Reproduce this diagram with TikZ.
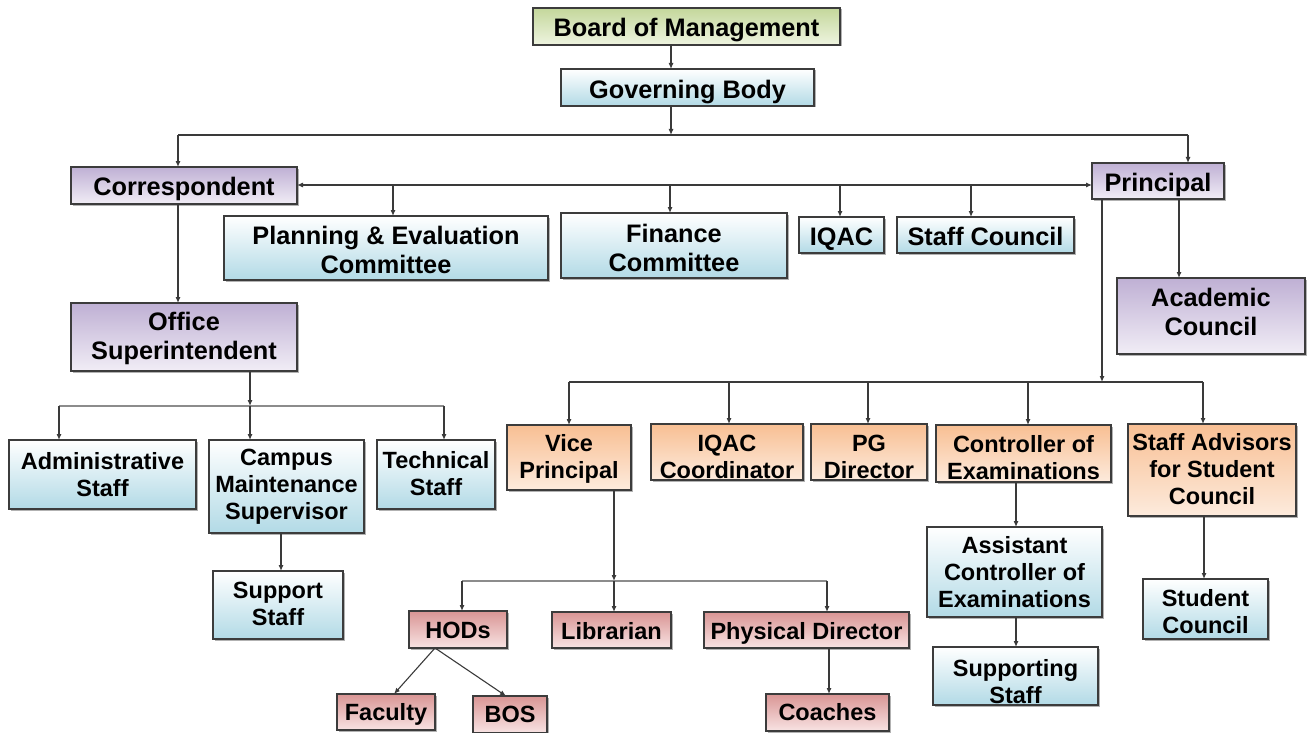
\documentclass[tikz,border=0pt]{standalone}
\usepackage{fontspec}
\setmainfont{Liberation Sans}
\usetikzlibrary{shadows,arrows.meta}
\definecolor{boxline}{HTML}{3C3C3C}
\definecolor{linecol}{HTML}{3A3A3A}
\definecolor{linelight}{HTML}{8C8C8C}
\definecolor{greentop}{HTML}{C4D79B}
\definecolor{greenbot}{HTML}{EEF4E0}
\definecolor{bluetop}{HTML}{FFFFFF}
\definecolor{bluebot}{HTML}{B2DAE6}
\definecolor{purptop}{HTML}{BFB0D4}
\definecolor{purpbot}{HTML}{F1EDF6}
\definecolor{orgtop}{HTML}{F8BF93}
\definecolor{orgbot}{HTML}{FDEBDD}
\definecolor{redtop}{HTML}{D99594}
\definecolor{redbot}{HTML}{F8E3E3}
\tikzset{
  box/.style={draw=boxline, line width=1.2pt, inner sep=0pt, outer sep=0pt, align=center,
    font=\bfseries\fontsize{23.5}{27}\selectfont,
    drop shadow={shadow xshift=1.5pt, shadow yshift=-1.5pt, opacity=0.3, fill=black}},
  tpos/.style 2 args={execute at begin node={\rule{0pt}{#1pt}}, execute at end node={\rule[-#2pt]{0pt}{0pt}}},
  bigtext/.style={font=\bfseries\fontsize{25.3}{29}\selectfont},
  fgreen/.style={top color=greentop, bottom color=greenbot},
  fblue/.style={top color=bluetop, bottom color=bluebot},
  fpurp/.style={top color=purptop, bottom color=purpbot},
  forg/.style={top color=orgtop, bottom color=orgbot},
  fred/.style={top color=redtop, bottom color=redbot},
  conn/.style={draw=linecol, line width=1.1pt},
  connlight/.style={draw=linelight, line width=1.1pt},
  arr/.style={conn, -{Latex[length=6pt,width=5pt]}},
  biarr/.style={conn, {Latex[length=6pt,width=5pt]}-{Latex[length=6pt,width=5pt]}},
}
\begin{document}
\begin{tikzpicture}[x=1pt,y=-1pt]
\useasboundingbox (0,0) rectangle (1309,733);
% top tier
\node[box,bigtext,fgreen,tpos={25.8}{5.4},minimum width=307,minimum height=37] (board) at (686.5,26.5) {Board of Management};
\node[box,bigtext,fblue,tpos={27}{5.4},minimum width=253,minimum height=37] (gov) at (687.5,87.5) {Governing Body};
\node[box,bigtext,fpurp,tpos={24.4}{5.4},minimum width=226,minimum height=37] (corr) at (184,185.5) {Correspondent};
\node[box,bigtext,fpurp,tpos={26.8}{5.4},minimum width=132,minimum height=36] (princ) at (1158,181) {Principal};
\node[box,bigtext,fblue,tpos={52}{0},minimum width=324,minimum height=64] (plan) at (386,248) {Planning \& Evaluation\\Committee};
\node[box,bigtext,fblue,tpos={51.6}{0},minimum width=226,minimum height=65] (fin) at (674,245.5) {Finance\\Committee};
\node[box,bigtext,fblue,tpos={25.4}{5.4},minimum width=85,minimum height=36] (iqac) at (841.5,235) {IQAC};
\node[box,bigtext,fblue,tpos={25.4}{5.4},minimum width=177,minimum height=36] (staffc) at (985.5,235) {Staff Council};
\node[box,bigtext,fpurp,tpos={47.5}{9.5},minimum width=188,minimum height=76] (acad) at (1211,316) {Academic\\Council};
\node[box,bigtext,fpurp,tpos={50.6}{0},minimum width=226,minimum height=68] (office) at (184,337) {Office\\Superintendent};
% lower tier
\node[box,fblue,tpos={45}{0},minimum width=187,minimum height=69] (admin) at (102.5,474.5) {Administrative\\Staff};
\node[box,fblue,tpos={71.6}{0},minimum width=155,minimum height=93] (campus) at (286.5,486.5) {Campus\\Maintenance\\Supervisor};
\node[box,fblue,tpos={44.2}{2.6},minimum width=118,minimum height=69] (tech) at (436,474.5) {Technical\\Staff};
\node[box,fblue,tpos={44.2}{3.6},minimum width=130,minimum height=68] (support) at (278,605) {Support\\Staff};
\node[box,forg,tpos={47.3}{0},minimum width=124,minimum height=65] (vice) at (569,457.5) {Vice\\Principal};
\node[box,forg,tpos={53.4}{0},minimum width=152,minimum height=56] (iqacc) at (727,452) {IQAC\\Coordinator};
\node[box,forg,tpos={53.4}{0},minimum width=116,minimum height=56] (pg) at (869,452) {PG\\Director};
\node[box,forg,tpos={53}{0},minimum width=175,minimum height=57] (coe) at (1023.5,453.5) {Controller of\\Examinations};
\node[box,forg,tpos={71.2}{1.8},minimum width=168,minimum height=92] (advis) at (1212,470) {Staff Advisors\\for Student\\Council};
\node[box,fblue,tpos={71.2}{0.6},minimum width=175,minimum height=90] (asst) at (1014.5,572) {Assistant\\Controller of\\Examinations};
\node[box,fblue,tpos={49.4}{0},minimum width=125,minimum height=60] (stuc) at (1205.5,609) {Student\\Council};
\node[box,fblue,tpos={55.4}{0},minimum width=165,minimum height=58] (supp2) at (1015.5,676) {Supporting\\Staff};
\node[box,fred,tpos={23}{5.4},minimum width=98,minimum height=37] (hods) at (458,629.5) {HODs};
\node[box,fred,tpos={24}{5.4},minimum width=119,minimum height=36] (lib) at (611.5,630) {Librarian};
\node[box,fred,tpos={24}{5.4},minimum width=205,minimum height=36] (phys) at (806.5,630) {Physical Director};
\node[box,fred,tpos={21.4}{5.4},minimum width=98,minimum height=36] (fac) at (386,712) {Faculty};
\node[box,fred,tpos={21.8}{5.4},minimum width=74,minimum height=37] (bos) at (510,714.5) {BOS};
\node[box,fred,tpos={20.4}{5.4},minimum width=123,minimum height=37] (coach) at (827.5,712.5) {Coaches};
% coordinates
\coordinate (b1) at (671,135);
\coordinate (b1L) at (178,135);
\coordinate (b1R) at (1188,135);
\coordinate (r2) at (0,185);
\coordinate (d1) at (393,185);
\coordinate (d2) at (670,185);
\coordinate (d3) at (840,185);
\coordinate (d4) at (971,185);
\coordinate (pa) at (1179,0);
\coordinate (p2) at (1102,382);
\coordinate (p2L) at (569,382);
\coordinate (p2R) at (1203,382);
\coordinate (e2) at (729,382);
\coordinate (e3) at (868,382);
\coordinate (e4) at (1028,382);
\coordinate (o3) at (250,406);
\coordinate (o3L) at (59,406);
\coordinate (o3R) at (444,406);
\coordinate (cs) at (281,0);
\coordinate (v4) at (614,581);
\coordinate (v4L) at (462,581);
\coordinate (v4R) at (827,581);
\coordinate (hx) at (435,0);
\coordinate (fx) at (394,0);
\coordinate (bx) at (506,0);
\coordinate (px) at (829,0);
\coordinate (cx) at (1016,0);
\coordinate (ax) at (1204,0);
% connectors
\draw[arr] (b1 |- board.south) -- (b1 |- gov.north);
\draw[arr] (b1 |- gov.south) -- (b1);
\draw[conn] (b1L) -- (b1R);
\draw[arr] (b1L) -- (b1L |- corr.north);
\draw[arr] (b1R) -- (b1R |- princ.north);
\draw[biarr] (corr.east |- r2) -- (princ.west |- r2);
\draw[arr] (d1) -- (d1 |- plan.north);
\draw[arr] (d2) -- (d2 |- fin.north);
\draw[arr] (d3) -- (d3 |- iqac.north);
\draw[arr] (d4) -- (d4 |- staffc.north);
\draw[arr] (pa |- princ.south) -- (pa |- acad.north);
\draw[arr] (b1L |- corr.south) -- (b1L |- office.north);
\draw[arr] (p2 |- princ.south) -- (p2);
\draw[conn] (p2L) -- (p2R);
\draw[arr] (p2L) -- (p2L |- vice.north);
\draw[arr] (e2) -- (e2 |- iqacc.north);
\draw[arr] (e3) -- (e3 |- pg.north);
\draw[arr] (e4) -- (e4 |- coe.north);
\draw[arr] (p2R) -- (p2R |- advis.north);
\draw[arr] (o3 |- office.south) -- (o3);
\draw[connlight] (o3L) -- (o3R);
\draw[arr] (o3L) -- (o3L |- admin.north);
\draw[arr] (o3) -- (o3 |- campus.north);
\draw[arr] (o3R) -- (o3R |- tech.north);
\draw[arr] (cs |- campus.south) -- (cs |- support.north);
\draw[arr] (v4 |- vice.south) -- (v4);
\draw[connlight] (v4L) -- (v4R);
\draw[arr] (v4L) -- (v4L |- hods.north);
\draw[arr] (v4) -- (v4 |- lib.north);
\draw[arr] (v4R) -- (v4R |- phys.north);
\draw[arr] (hx |- hods.south) -- (fx |- fac.north);
\draw[arr] (hx |- hods.south) -- (bx |- bos.north);
\draw[arr] (px |- phys.south) -- (px |- coach.north);
\draw[arr] (cx |- coe.south) -- (cx |- asst.north);
\draw[arr] (cx |- asst.south) -- (cx |- supp2.north);
\draw[arr] (ax |- advis.south) -- (ax |- stuc.north);
\end{tikzpicture}
\end{document}
